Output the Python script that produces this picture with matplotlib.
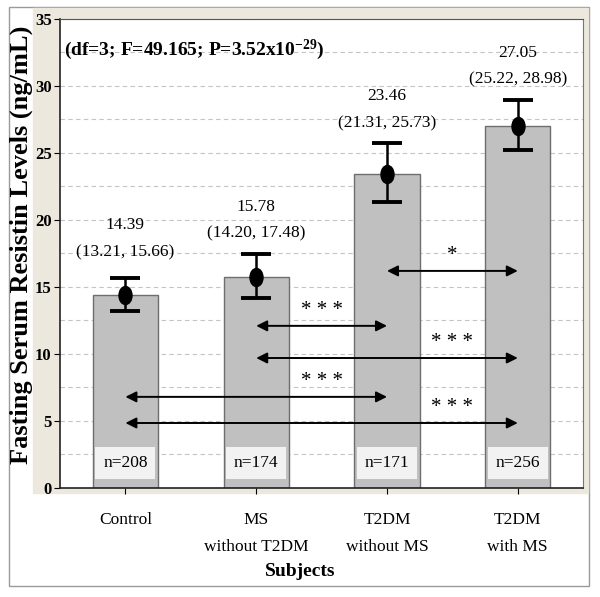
import matplotlib
matplotlib.use("Agg")
import matplotlib.pyplot as plt
from matplotlib.patches import Rectangle
from matplotlib.path import Path
from matplotlib.transforms import Affine2D

plt.rcParams['font.family'] = ['Liberation Serif', 'DejaVu Serif']
plt.rcParams['mathtext.fontset'] = 'custom'
plt.rcParams['mathtext.rm'] = 'Liberation Serif:bold'
plt.rcParams['mathtext.it'] = 'Liberation Serif:bold'
plt.rcParams['mathtext.bf'] = 'Liberation Serif:bold'

# data
groups = ["Control", "MS\nwithout T2DM", "T2DM\nwithout MS", "T2DM\nwith MS"]
means = [14.39, 15.78, 23.46, 27.05]
ci_low = [13.21, 14.20, 21.31, 25.22]
ci_high = [15.66, 17.48, 25.73, 28.98]
n_sizes = [208, 174, 171, 256]
pairs = [(2, 3), (1, 2), (1, 3), (0, 2), (0, 3)]
sig_marks = ["*", "* * *", "* * *", "* * *", "* * *"]
stats_text = "(df=3; F=49.165; P=3.52x10$^{-29}$)"

# layout
arrow_levels = [16.2, 12.1, 9.7, 6.8, 4.85]
label_gap = [1.95, 1.5, 1.5, 1.5]
beige = "#ECE8DE"

fig = plt.figure(figsize=(6, 5.97), dpi=100)
fig.patches.append(Rectangle((9 / 600, 11 / 597), 580 / 600, 579 / 597,
                             transform=fig.transFigure, fill=False,
                             ec="#9a9a9a", lw=1, zorder=-10))
fig.patches.append(Rectangle((33 / 600, 104 / 597), 555 / 600, 485 / 597,
                             transform=fig.transFigure, color=beige,
                             zorder=-10))

ax = fig.add_axes([0.1, 0.1826, 0.872, 0.7856])
ax.set_facecolor("white")
x = list(range(len(groups)))

ax.bar(x, means, width=0.5, color="#C0C0C0", edgecolor="#6e6e6e",
       linewidth=1, zorder=2)

ellipse = Path.unit_circle().transformed(Affine2D().scale(0.72, 1.0))
yerr = [[m - lo for m, lo in zip(means, ci_low)],
        [hi - m for m, hi in zip(means, ci_high)]]
ax.errorbar(x, means, yerr=yerr, fmt="none", ecolor="black", elinewidth=1.8,
            capsize=10.5, capthick=2.8, zorder=3)
ax.plot(x, means, linestyle="none", marker=ellipse, markersize=13,
        color="black", zorder=4)

for xi, m, lo, hi, gap in zip(x, means, ci_low, ci_high, label_gap):
    ax.text(xi, hi + gap, f"({lo:.2f}, {hi:.2f})", ha="center", va="center",
            fontsize=12.5, zorder=5)
    ax.text(xi, hi + gap + 2.0, f"{m:.2f}", ha="center", va="center",
            fontsize=12.5, zorder=5)

for xi, n in zip(x, n_sizes):
    ax.text(xi, 1.87, f"n={n}", ha="center", va="center", fontsize=12.5,
            zorder=5, bbox=dict(boxstyle="square,pad=0.45", fc="#F2F2F2",
                                ec="none"))

for (i, j), mark, lvl in zip(pairs, sig_marks, arrow_levels):
    ax.annotate("", xy=(j, lvl), xytext=(i, lvl),
                arrowprops=dict(arrowstyle="<|-|>", color="black", lw=1.4,
                                mutation_scale=16, shrinkA=0, shrinkB=0),
                zorder=5)
    ax.text(j - 0.5, lvl + 0.45, mark, ha="center", va="bottom", fontsize=15,
            zorder=5)

ax.text(0.008, 0.935, stats_text, transform=ax.transAxes, ha="left",
        va="center", fontsize=14, fontweight="bold")

ax.set_xlim(-0.5, 3.5)
ax.set_ylim(0, 35)
ax.set_yticks(range(0, 36, 5))
ax.set_yticks([v * 2.5 for v in range(1, 14, 2)], minor=True)
ax.set_xticks(x)
ax.set_xticklabels(groups, fontsize=12.5, linespacing=1.95)
ax.tick_params(axis="x", length=4, pad=13)
ax.tick_params(axis="y", which="major", length=4, labelsize=12, pad=2)
ax.tick_params(axis="y", which="minor", length=0)
for lab in ax.get_yticklabels():
    lab.set_fontweight("bold")

ax.set_axisbelow(True)
ax.grid(True, axis="y", which="both", linestyle=(0, (4, 3)),
        color="#c4c4c4", linewidth=0.8, zorder=0)

ax.spines["left"].set_color("#222222")
ax.spines["bottom"].set_color("#222222")
ax.spines["left"].set_linewidth(1.2)
ax.spines["bottom"].set_linewidth(1.2)
ax.spines["top"].set_color("#555555")
ax.spines["right"].set_color("#777777")

fig.text(0.5, 1 - 571 / 597, "Subjects", ha="center", va="center",
         fontsize=14, fontweight="bold")
fig.text(21 / 600, 1 - 245 / 597, "Fasting Serum Resistin Levels (ng/mL)",
         rotation=90, ha="center", va="center", fontsize=19,
         fontweight="bold")

fig.savefig("out.png", dpi=100)
